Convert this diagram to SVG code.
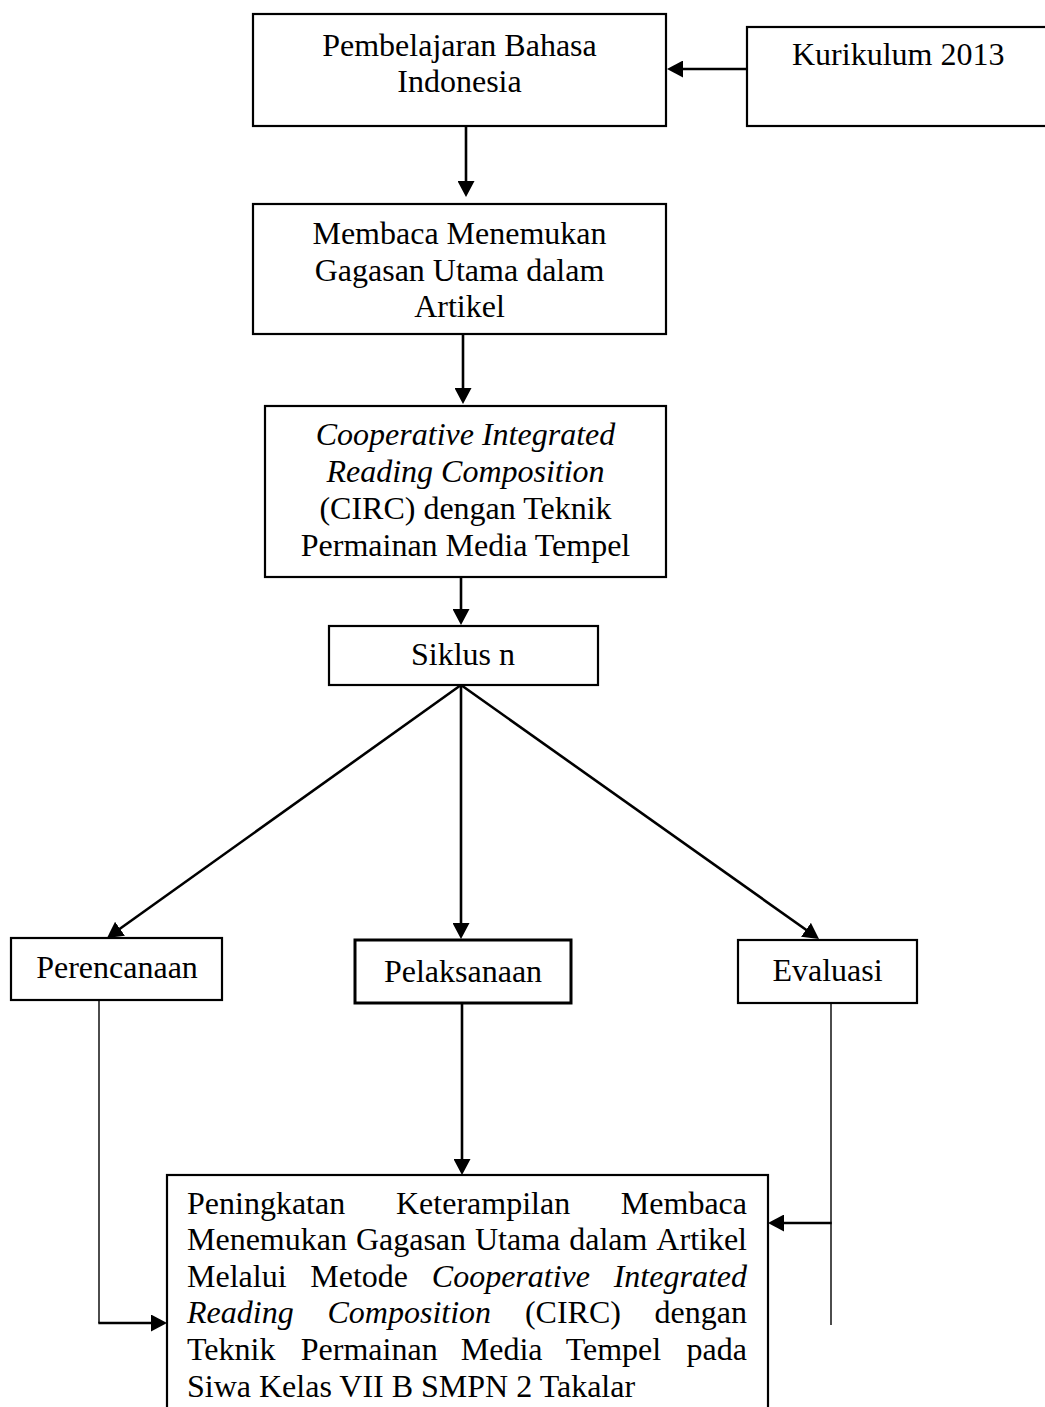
<svg xmlns="http://www.w3.org/2000/svg" width="1045" height="1407" viewBox="0 0 1045 1407">
  <style>
    .box { fill: #fff; stroke: #000; stroke-width: 2.2; }
    .boxthick { fill: #fff; stroke: #000; stroke-width: 3; }
    .t { font-family: "Liberation Serif", "Times New Roman", serif; font-size: 32px; fill: #000; }
    .c { text-anchor: middle; }
    .i { font-style: italic; }
    .conn { fill: none; stroke: #000; stroke-width: 2.6; }
    .thin { fill: none; stroke: #000; stroke-width: 1.4; }
  </style>
  <defs>
    <marker id="arr" viewBox="0 0 16 17" refX="7" refY="8.5" markerWidth="16" markerHeight="17" markerUnits="userSpaceOnUse" orient="auto">
      <path d="M0,0 L16,8.5 L0,17 z" fill="#000"/>
    </marker>
  </defs>
  <rect width="1045" height="1407" fill="#fff"/>

  <g id="connectors">
    <line class="conn" x1="747" y1="69" x2="676" y2="69" marker-end="url(#arr)"/>
    <line class="conn" x1="466" y1="126" x2="466" y2="188" marker-end="url(#arr)"/>
    <line class="conn" x1="463" y1="334" x2="463" y2="395" marker-end="url(#arr)"/>
    <line class="conn" x1="461" y1="577" x2="461" y2="616" marker-end="url(#arr)"/>
    <line class="conn" x1="461" y1="685" x2="114.3" y2="932.8" marker-end="url(#arr)"/>
    <line class="conn" x1="461" y1="685" x2="461" y2="930" marker-end="url(#arr)"/>
    <line class="conn" x1="461" y1="685" x2="811.7" y2="933.8" marker-end="url(#arr)"/>
    <line class="conn" x1="462" y1="1003" x2="462" y2="1166" marker-end="url(#arr)"/>
    <line class="thin" x1="99" y1="1001" x2="99" y2="1323"/>
    <line class="conn" x1="98.3" y1="1323" x2="158" y2="1323" marker-end="url(#arr)"/>
    <line class="thin" x1="831" y1="1003" x2="831" y2="1325"/>
    <line class="conn" x1="831.7" y1="1223" x2="777" y2="1223" marker-end="url(#arr)"/>
  </g>

  <g id="node-pembelajaran">
    <rect class="box" x="253" y="14" width="413" height="112"/>
    <text class="t c" x="459.5" y="56">Pembelajaran Bahasa</text>
    <text class="t c" x="459.5" y="92">Indonesia</text>
  </g>

  <g id="node-kurikulum">
    <rect class="box" x="747" y="27" width="310" height="99"/>
    <text class="t" x="792" y="65">Kurikulum 2013</text>
  </g>

  <g id="node-membaca">
    <rect class="box" x="253" y="204" width="413" height="130"/>
    <text class="t c" x="459.5" y="244">Membaca Menemukan</text>
    <text class="t c" x="459.5" y="280.5">Gagasan Utama dalam</text>
    <text class="t c" x="459.5" y="317">Artikel</text>
  </g>

  <g id="node-circ">
    <rect class="box" x="265" y="406" width="401" height="171"/>
    <text class="t c i" x="465.5" y="445">Cooperative Integrated</text>
    <text class="t c i" x="465.5" y="482">Reading Composition</text>
    <text class="t c" x="465.5" y="519">(CIRC) dengan Teknik</text>
    <text class="t c" x="465.5" y="556">Permainan Media Tempel</text>
  </g>

  <g id="node-siklus">
    <rect class="box" x="329" y="626" width="269" height="59"/>
    <text class="t c" x="463" y="665">Siklus n</text>
  </g>

  <g id="node-perencanaan">
    <rect class="box" x="11" y="938" width="211" height="62"/>
    <text class="t c" x="117" y="978">Perencanaan</text>
  </g>

  <g id="node-pelaksanaan">
    <rect class="boxthick" x="355" y="940" width="216" height="63"/>
    <text class="t c" x="463" y="982">Pelaksanaan</text>
  </g>

  <g id="node-evaluasi">
    <rect class="box" x="738" y="940" width="179" height="63"/>
    <text class="t c" x="827.5" y="981">Evaluasi</text>
  </g>

  <g id="node-hasil">
    <rect class="box" x="167" y="1175" width="601" height="260"/>
    <text class="t" y="1213.5"><tspan x="187">Peningkatan</tspan><tspan x="396">Keterampilan</tspan><tspan x="747" text-anchor="end">Membaca</tspan></text>
    <text class="t" y="1250"><tspan x="187">Menemukan</tspan><tspan x="355.9">Gagasan</tspan><tspan x="475">Utama</tspan><tspan x="569.2">dalam</tspan><tspan x="747" text-anchor="end">Artikel</tspan></text>
    <text class="t" y="1286.7"><tspan x="187">Melalui</tspan><tspan x="310.3">Metode</tspan><tspan x="431.8" font-style="italic">Cooperative</tspan><tspan x="747" text-anchor="end" font-style="italic">Integrated</tspan></text>
    <text class="t" y="1323.3"><tspan x="187" font-style="italic">Reading</tspan><tspan x="327.5" font-style="italic">Composition</tspan><tspan x="524.9">(CIRC)</tspan><tspan x="747" text-anchor="end">dengan</tspan></text>
    <text class="t" y="1360"><tspan x="187">Teknik</tspan><tspan x="300.8">Permainan</tspan><tspan x="460.8">Media</tspan><tspan x="565.7">Tempel</tspan><tspan x="747" text-anchor="end">pada</tspan></text>
    <text class="t" x="187" y="1396.6">Siwa Kelas VII B SMPN 2 Takalar</text>
  </g>
</svg>
